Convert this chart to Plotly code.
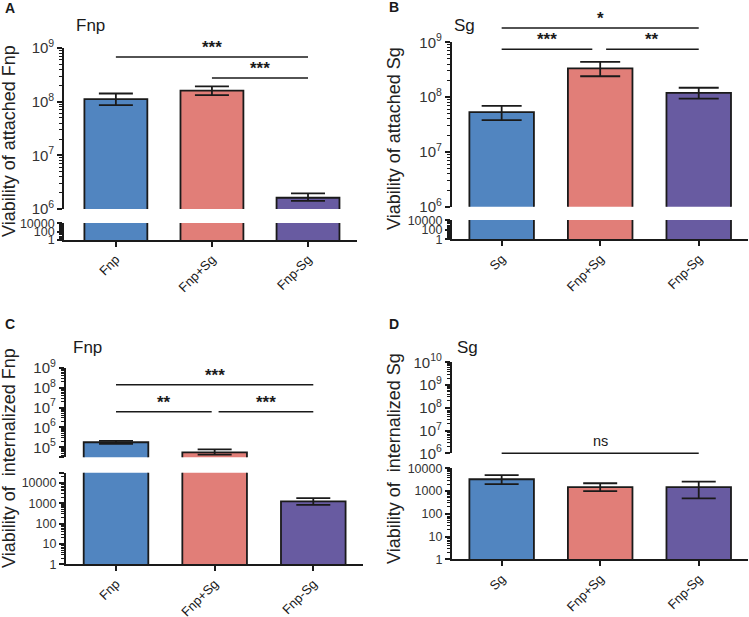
import plotly.graph_objects as go

W, H = 749, 617


def px(x):
    return x / W


def py(y):
    return 1 - y / H


# ---------------- data ----------------
cats_A = ["Fnp", "Fnp+Sg", "Fnp-Sg"]
mean_A = [1.12e8, 1.6e8, 1.62e6]
hi_A = [1.42e8, 1.92e8, 1.95e6]
lo_A = [8.6e7, 1.32e8, 1.42e6]

cats_B = ["Sg", "Fnp+Sg", "Fnp-Sg"]
mean_B = [5.3e7, 3.35e8, 1.19e8]
hi_B = [6.9e7, 4.4e8, 1.48e8]
lo_B = [3.8e7, 2.4e8, 9.4e7]

cats_C = ["Fnp", "Fnp+Sg", "Fnp-Sg"]
mean_C = [1.8e5, 5.6e4, 1230]
hi_C = [2.1e5, 7.9e4, 1800]
lo_C = [1.5e5, 4.3e4, 830]

cats_D = ["Sg", "Fnp+Sg", "Fnp-Sg"]
mean_D = [3300, 1500, 1500]
hi_D = [5000, 2200, 2600]
lo_D = [2000, 1000, 480]

bar_colors = ["#5185C0", "#E17E78", "#685BA1"]

FONT = "Arial, Liberation Sans, sans-serif"
INK = "#1a1a1a"

# panel geometry (pixels in the 749x617 figure)
panels = [
    dict(key="A", cats=cats_A, mean=mean_A, hi=hi_A, lo=lo_A,
         xdom=(64, 357), xr=(-0.54, 2.51),
         up_px=(48, 209), up_r=(6, 9), up_ticks=[6, 7, 8, 9],
         low_px=(223, 240), low_r=(0, 4.1), low_ticks=[0, 2, 4],
         capw=17, title="Fnp", title_xy=(74, 25), letter_xy=(3, 8),
         ytitle="Viability of attached Fnp", ytitle_xy=(9, 141),
         sig=[(0, 2, 57, "***"), (1.0, 2, 78, "***")]),
    dict(key="B", cats=cats_B, mean=mean_B, hi=hi_B, lo=lo_B,
         xdom=(451.7, 748), xr=(-0.507, 2.5),
         up_px=(42.3, 206.7), up_r=(6, 9), up_ticks=[6, 7, 8, 9],
         low_px=(220, 239.3), low_r=(0, 4.1), low_ticks=[0, 2, 4],
         capw=20, title="Sg", title_xy=(452, 25), letter_xy=(387, 7),
         ytitle="Viability of attached Sg", ytitle_xy=(394, 139),
         sig=[(0, 2, 28, "*"), (0, 0.92, 49.3, "***"), (1.06, 2, 49.3, "**")]),
    dict(key="C", cats=cats_C, mean=mean_C, hi=hi_C, lo=lo_C,
         xdom=(65.7, 363.3), xr=(-0.51, 2.507),
         up_px=(367.7, 457.3), up_r=(4.5, 9), up_ticks=[5, 6, 7, 8, 9],
         low_px=(472.7, 564.3), low_r=(0, 4.5), low_ticks=[0, 1, 2, 3, 4],
         capw=17, title="Fnp", title_xy=(71, 347), letter_xy=(3, 324),
         ytitle="Viability of\u00a0 internalized Fnp", ytitle_xy=(9, 458),
         sig=[(0, 2, 384.7, "***"), (0, 0.97, 411.7, "**"), (1.04, 2, 411.7, "***")]),
    dict(key="D", cats=cats_D, mean=mean_D, hi=hi_D, lo=lo_D,
         xdom=(451.7, 748), xr=(-0.507, 2.5),
         up_px=(362.3, 453.3), up_r=(6, 10), up_ticks=[6, 7, 8, 9, 10],
         low_px=(468.3, 559.3), low_r=(0, 4), low_ticks=[0, 1, 2, 3, 4],
         capw=17, title="Sg", title_xy=(455, 348), letter_xy=(387, 324),
         ytitle="Viability of\u00a0 internalized Sg", ytitle_xy=(394, 459),
         sig=[(0, 2, 453.3, "ns")]),
]

fig = go.Figure()
layout = dict(
    template="none",
    width=W, height=H, margin=dict(l=0, r=0, t=0, b=0, pad=0, autoexpand=False),
    paper_bgcolor="white", plot_bgcolor="white", showlegend=False,
    font=dict(family=FONT, color=INK), barmode="overlay",
)
annotations = []
shapes = []


def minor_vals(lo, hi):
    vals = []
    for k in range(int(lo) - 1, int(hi) + 1):
        for m in range(2, 10):
            v = m * 10 ** k
            if 10 ** lo <= v <= 10 ** hi:
                vals.append(v)
    return vals


for i, p in enumerate(panels):
    n = i + 1
    xname = "x" if n == 1 else f"x{n}"
    ylow_n = 2 * i + 1
    yup_n = 2 * i + 2
    ylow = "y" if ylow_n == 1 else f"y{ylow_n}"
    yup = f"y{yup_n}"

    err = dict(type="data", symmetric=False,
               array=[h - m for h, m in zip(p["hi"], p["mean"])],
               arrayminus=[m - l for m, l in zip(p["mean"], p["lo"])],
               color=INK, thickness=1.8, width=p["capw"])
    for yref in (ylow, yup):
        fig.add_trace(go.Bar(
            x=p["cats"], y=p["mean"], xaxis=xname, yaxis=yref,
            width=0.655, marker=dict(color=bar_colors, line=dict(color=INK, width=1.8)),
            error_y=err, hoverinfo="skip",
        ))

    x0, x1 = p["xdom"]
    layout["xaxis" if n == 1 else f"xaxis{n}"] = dict(
        domain=[px(x0), px(x1)], range=list(p["xr"]), anchor=ylow, automargin=False,
        showline=True, linecolor=INK, linewidth=1.6, ticks="outside",
        ticklen=5, tickwidth=1.5, tickcolor=INK, tickangle=-45,
        tickfont=dict(size=13, family=FONT, color=INK), showgrid=False, zeroline=False,
        fixedrange=True,
    )
    common = dict(type="log", anchor=xname, showline=True, linecolor=INK, linewidth=1.6,
                  ticks="outside", ticklen=5, tickwidth=1.5, tickcolor=INK,
                  showgrid=False, zeroline=False, automargin=False, fixedrange=True)

    # upper segment ticks (+ an unlabelled tick at the break end when needed)
    up_vals = [10 ** k for k in p["up_ticks"]]
    up_text = [f"10<sup>{k}</sup>" for k in p["up_ticks"]]
    if p["up_r"][0] not in p["up_ticks"]:
        up_vals.append(10 ** p["up_r"][0])
        up_text.append("")
    low_vals = [10 ** k for k in p["low_ticks"]]
    low_text = [str(10 ** k) for k in p["low_ticks"]]
    if p["low_r"][1] - max(p["low_ticks"]) > 0.2:
        low_vals.append(10 ** p["low_r"][1])
        low_text.append("")

    u0, u1 = p["up_px"]
    layout["yaxis" + str(yup_n)] = dict(
        common, domain=[py(u1), py(u0)], range=list(p["up_r"]),
        tickvals=up_vals, ticktext=up_text,
        tickfont=dict(size=15, family=FONT, color="#333"),
        minor=dict(ticks="outside", ticklen=3, tickwidth=1, tickcolor=INK,
                   tickvals=minor_vals(*p["up_r"])),
    )
    l0, l1 = p["low_px"]
    layout["yaxis" if ylow_n == 1 else f"yaxis{ylow_n}"] = dict(
        common, domain=[py(l1), py(l0)], range=list(p["low_r"]),
        tickvals=low_vals, ticktext=low_text,
        tickfont=dict(size=12.5, family=FONT, color="#333"),
        minor=dict(ticks="outside", ticklen=3, tickwidth=1, tickcolor=INK,
                   tickvals=minor_vals(*p["low_r"])),
    )

    # titles and labels
    tx, ty = p["title_xy"]
    annotations.append(dict(text=p["title"], x=px(tx), y=py(ty), xref="paper", yref="paper",
                            xanchor="left", yanchor="middle", showarrow=False,
                            font=dict(size=17, family=FONT, color=INK)))
    lx, ly = p["letter_xy"]
    annotations.append(dict(text=f"<b>{p['key']}</b>", x=px(lx), y=py(ly), xref="paper", yref="paper",
                            xanchor="left", yanchor="middle", showarrow=False,
                            font=dict(size=14, family=FONT, color=INK)))
    yx, yy = p["ytitle_xy"]
    annotations.append(dict(text=p["ytitle"], x=px(yx), y=py(yy), xref="paper", yref="paper",
                            xanchor="center", yanchor="middle", textangle=-90, showarrow=False,
                            font=dict(size=18, family=FONT, color="#222")))
    # significance brackets
    for a, b, yl, lab in p["sig"]:
        shapes.append(dict(type="line", xref=xname, yref="paper", x0=a, x1=b,
                           y0=py(yl), y1=py(yl), line=dict(color=INK, width=1.5)))
        if lab == "ns":
            annotations.append(dict(text=lab, xref=xname, yref="paper", x=(a + b) / 2,
                                    y=py(yl - 2), xanchor="center", yanchor="bottom",
                                    showarrow=False, font=dict(size=14.5, family=FONT, color=INK)))
        else:
            annotations.append(dict(text=f"<b>{lab}</b>", xref=xname, yref="paper", x=(a + b) / 2,
                                    y=py(yl + 2), xanchor="center", yanchor="bottom",
                                    showarrow=False, font=dict(size=17, family=FONT, color=INK)))

layout["annotations"] = annotations
layout["shapes"] = shapes
fig.update_layout(**layout)
fig.write_html(
    "out.html",
    config=dict(displayModeBar=False, responsive=False),
    post_script="document.body.style.margin='0';document.body.style.padding='0';"
                "document.documentElement.style.overflow='hidden';",
)
